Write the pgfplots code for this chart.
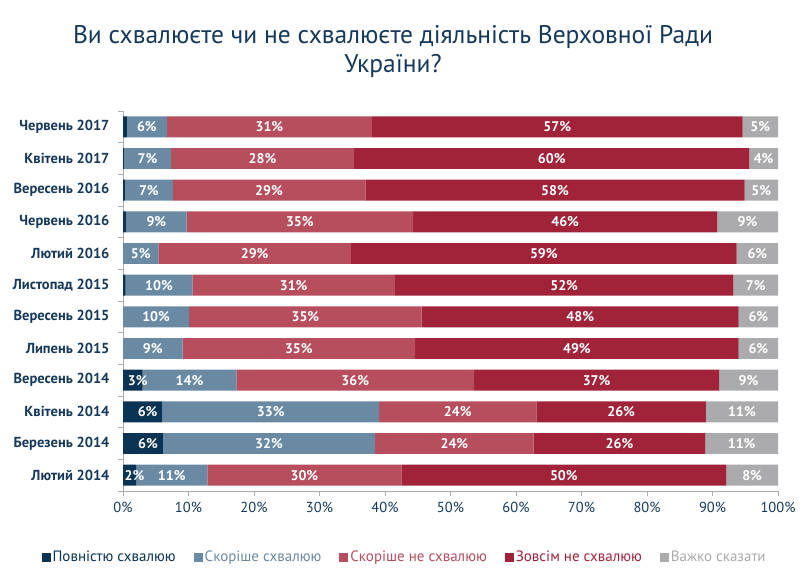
\documentclass[border=0pt]{standalone}
\usepackage{pgfplots}
\pgfplotsset{compat=1.18}
\usepackage{pgfplotstable}
\usepackage{fontspec}
\setmainfont{PT Sans}
\definecolor{cD}{HTML}{0B3454}
\definecolor{cS}{HTML}{6A8AA3}
\definecolor{cP}{HTML}{B64E5E}
\definecolor{cC}{HTML}{A0233A}
\definecolor{cG}{HTML}{ABABAD}
\definecolor{cT}{HTML}{16385A}
\pgfplotstableread{
idx d s p c g ld ls lp lc lg
0 2.0 10.9 29.6 49.6 7.9 2 11 30 50 8
1 6.1 32.4 24.2 26.2 11.1 6 32 24 26 11
2 6.0 33.1 24.0 25.9 11.0 6 33 24 26 11
3 3.0 14.3 36.3 37.4 9.0 3 14 36 37 9
4 0.0 9.1 35.5 49.4 6.0 0 9 35 49 6
5 0.0 10.1 35.5 48.4 6.0 0 10 35 48 6
6 0.4 10.2 30.9 51.7 6.8 0 10 31 52 7
7 0.0 5.4 29.4 58.9 6.3 0 5 29 59 6
8 0.5 9.2 34.6 46.4 9.3 0 9 35 46 9
9 0.3 7.3 29.4 57.9 5.1 0 7 29 58 5
10 0.2 7.1 28.0 60.3 4.4 0 7 28 60 4
11 0.6 6.1 31.3 56.6 5.4 0 6 31 57 5
}\data
\begin{document}
\begin{tikzpicture}
\useasboundingbox (0,0) rectangle (800pt,573pt);
\node[font=\fontsize{25.5}{29}\selectfont, text=cT, align=center] at (393pt,521pt) {Ви схвалюєте чи не схвалюєте діяльність Верховної Ради\\України?};
\begin{axis}[
  at={(123pt,82pt)}, anchor=south west,
  scale only axis, width=655pt, height=380pt,
  xbar stacked, bar width=0.66,
  xmin=0, xmax=100, ymin=-0.5, ymax=11.5,
  axis x line*=bottom, axis y line*=left,
  axis line style={draw=gray!65, line width=0.8pt},
  /pgf/number format/assume math mode=true,
  xtick={0,10,...,100},
  xticklabels={0\%,10\%,20\%,30\%,40\%,50\%,60\%,70\%,80\%,90\%,100\%},
  ytick={0,...,11},
  yticklabels={Лютий 2014,Березень 2014,Квітень 2014,Вересень 2014,Липень 2015,Вересень 2015,Листопад 2015,Лютий 2016,Червень 2016,Вересень 2016,Квітень 2017,Червень 2017},
  minor ytick={-0.5,0.5,...,11.5},
  tick align=outside,
  major tick length=5pt, minor tick length=5pt,
  major y tick style={draw=none},
  major x tick style={draw=gray!65, line width=0.8pt},
  minor y tick style={draw=gray!65, line width=0.8pt},
  xticklabel style={font=\fontsize{14.5}{16}\selectfont, text=cT, yshift=-3pt},
  yticklabel style={font=\bfseries\fontsize{14.5}{16}\selectfont, text=cT, xshift=-5pt},
  legend columns=5,
  legend style={draw=none, at={(0.43,-0.174)}, anchor=center, font=\fontsize{15}{17}\selectfont,
    /tikz/every even column/.append style={column sep=16pt}},
  legend image code/.code={\fill[#1] (0pt,-4.5pt) rectangle (9pt,4.5pt);},
]
\addplot[fill=cD, draw=none] table[x=d, y=idx]{\data};
\addlegendentry{\textcolor{cD}{Повністю схвалюю}}
\addplot[fill=cS, draw=none] table[x=s, y=idx]{\data};
\addlegendentry{\textcolor{cS}{Скоріше схвалюю}}
\addplot[fill=cP, draw=none] table[x=p, y=idx]{\data};
\addlegendentry{\textcolor{cP}{Скоріше не схвалюю}}
\addplot[fill=cC, draw=none] table[x=c, y=idx]{\data};
\addlegendentry{\textcolor{cC}{Зовсім не схвалюю}}
\addplot[fill=cG, draw=none] table[x=g, y=idx]{\data};
\addlegendentry{\textcolor{cG}{Важко сказати}}
\end{axis}
\begin{axis}[
  at={(123pt,82pt)}, anchor=south west,
  scale only axis, width=655pt, height=380pt,
  xmin=0, xmax=100, ymin=-0.5, ymax=11.5,
  hide axis,
  point meta=explicit symbolic,
  nodes near coords={\pgfplotspointmeta\%},
  every node near coord/.append style={anchor=center, text=white, font=\bfseries\fontsize{14}{16}\selectfont},
]
\addplot[only marks, mark=*, mark size=0pt, mark options={draw=none,fill=none}, skip coords between index={4}{12}, every node near coord/.append style={xshift=5pt}] table[x expr=\thisrow{d}/2, y=idx, meta=ld]{\data};
\addplot[only marks, mark=*, mark size=0pt, mark options={draw=none,fill=none}] table[x expr=\thisrow{d}+\thisrow{s}/2, y=idx, meta=ls]{\data};
\addplot[only marks, mark=*, mark size=0pt, mark options={draw=none,fill=none}] table[x expr=\thisrow{d}+\thisrow{s}+\thisrow{p}/2, y=idx, meta=lp]{\data};
\addplot[only marks, mark=*, mark size=0pt, mark options={draw=none,fill=none}] table[x expr=\thisrow{d}+\thisrow{s}+\thisrow{p}+\thisrow{c}/2, y=idx, meta=lc]{\data};
\addplot[only marks, mark=*, mark size=0pt, mark options={draw=none,fill=none}] table[x expr=\thisrow{d}+\thisrow{s}+\thisrow{p}+\thisrow{c}+\thisrow{g}/2, y=idx, meta=lg]{\data};
\end{axis}
\end{tikzpicture}
\end{document}
